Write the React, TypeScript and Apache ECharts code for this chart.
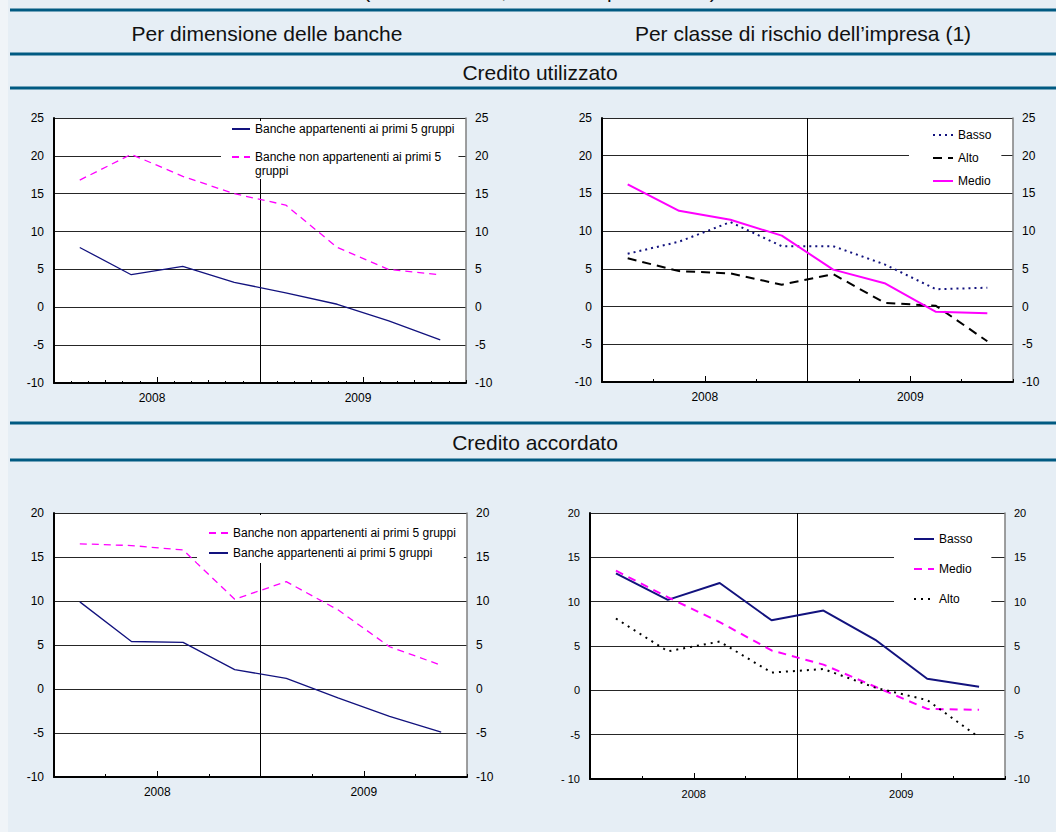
import React, { useEffect, useRef } from 'react';
import * as echarts from 'echarts';

// ---------- data ----------
const quarters = ['2007-Q3', '2007-Q4', '2008-Q1', '2008-Q2', '2008-Q3', '2008-Q4', '2009-Q1', '2009-Q2'];
const boundaries = [...quarters, '2009-Q3'];
const months = quarters.flatMap((q) => [q + '-m1', q + '-m2', q + '-m3']);

// Credito utilizzato - per dimensione delle banche
const big5Util = [7.9, 4.3, 5.4, 3.3, 1.9, 0.4, -1.8, -4.3];
const nonBig5Util = [16.8, 20.2, 17.3, 15.0, 13.5, 7.9, 5.0, 4.3];
// Credito utilizzato - per classe di rischio
const bassoUtil = [7.0, 8.6, 11.2, 8.0, 8.0, 5.6, 2.3, 2.5];
const altoUtil = [6.4, 4.7, 4.4, 2.9, 4.3, 0.5, 0.1, -4.6];
const medioUtil = [16.2, 12.7, 11.5, 9.4, 4.9, 3.1, -0.7, -0.9];
// Credito accordato - per dimensione delle banche
const big5Acc = [9.9, 5.4, 5.3, 2.2, 1.2, -1.0, -3.1, -4.9];
const nonBig5Acc = [16.5, 16.3, 15.8, 10.2, 12.2, 9.0, 4.8, 2.7];
// Credito accordato - per classe di rischio
const bassoAcc = [13.2, 10.2, 12.1, 7.9, 9.0, 5.7, 1.3, 0.4];
const medioAcc = [13.5, 10.5, 7.7, 4.5, 2.9, 0.4, -2.1, -2.2];
const altoAcc = [8.1, 4.4, 5.5, 2.0, 2.4, 0.3, -1.1, -5.3];

const NAME_BIG5 = 'Banche appartenenti ai primi 5 gruppi';
const NAME_NONBIG5 = 'Banche non appartenenti ai primi 5 gruppi';

const TITLE_TOP = '(dati trimestrali; variazioni percentuali)';
const HEAD_LEFT = 'Per dimensione delle banche';
const HEAD_RIGHT = 'Per classe di rischio dell\u2019impresa (1)';
const SECTION_1 = 'Credito utilizzato';
const SECTION_2 = 'Credito accordato';

// ---------- styles ----------
const FONT = "'Liberation Sans', Arial, Helvetica, sans-serif";
const NAVY = '#12127E';
const MAGENTA = '#FF00FF';
const BLACK = '#000000';
const BG = '#E6EEF5';
const RULE = '#005A82';

type SeriesDef = { name: string; data: number[]; color: string; width: number; dash: any };
type PanelDef = {
  rect: { left: number; top: number; width: number; height: number };
  ymax: number;
  series: SeriesDef[];
  legendOrder: string[];
  legend: { left: number; top: number; padding: number[]; itemGap: number; itemWidth: number };
  monthly: boolean;
  labelShift: number;
  yFont: number;
  xFont: number;
  spacedMin: boolean;
  wrapNon: boolean;
};

const panels: PanelDef[] = [
  {
    rect: { left: 54, top: 118, width: 412, height: 265 },
    ymax: 25,
    series: [
      { name: NAME_BIG5, data: big5Util, color: NAVY, width: 1.3, dash: 'solid' },
      { name: NAME_NONBIG5, data: nonBig5Util, color: MAGENTA, width: 1.3, dash: [7, 5] },
    ],
    legendOrder: [NAME_BIG5, NAME_NONBIG5],
    legend: { left: 221, top: 121, padding: [1, 4, 1, 10], itemGap: 0, itemWidth: 18 },
    monthly: true,
    labelShift: 5,
    yFont: 12,
    xFont: 12,
    spacedMin: false,
    wrapNon: true,
  },
  {
    rect: { left: 602, top: 118, width: 411, height: 264 },
    ymax: 25,
    series: [
      { name: 'Basso', data: bassoUtil, color: NAVY, width: 2, dash: [2, 4] },
      { name: 'Alto', data: altoUtil, color: BLACK, width: 2, dash: [9, 6] },
      { name: 'Medio', data: medioUtil, color: MAGENTA, width: 2, dash: 'solid' },
    ],
    legendOrder: ['Basso', 'Alto', 'Medio'],
    legend: { left: 909, top: 120, padding: [8, 10, 4, 23], itemGap: 9, itemWidth: 20 },
    monthly: false,
    labelShift: 0,
    yFont: 12,
    xFont: 12,
    spacedMin: false,
    wrapNon: false,
  },
  {
    rect: { left: 54, top: 513, width: 413, height: 264 },
    ymax: 20,
    series: [
      { name: NAME_NONBIG5, data: nonBig5Acc, color: MAGENTA, width: 1.3, dash: [7, 5] },
      { name: NAME_BIG5, data: big5Acc, color: NAVY, width: 1.3, dash: 'solid' },
    ],
    legendOrder: [NAME_NONBIG5, NAME_BIG5],
    legend: { left: 197, top: 515, padding: [11, 8, 3, 11], itemGap: 6, itemWidth: 19 },
    monthly: false,
    labelShift: 0,
    yFont: 12,
    xFont: 12,
    spacedMin: false,
    wrapNon: false,
  },
  {
    rect: { left: 590, top: 513, width: 415, height: 266 },
    ymax: 20,
    series: [
      { name: 'Basso', data: bassoAcc, color: NAVY, width: 2, dash: 'solid' },
      { name: 'Medio', data: medioAcc, color: MAGENTA, width: 2, dash: [8, 6] },
      { name: 'Alto', data: altoAcc, color: BLACK, width: 2, dash: [2, 5] },
    ],
    legendOrder: ['Basso', 'Medio', 'Alto'],
    legend: { left: 894, top: 517, padding: [15, 19, 6, 19], itemGap: 16, itemWidth: 20 },
    monthly: false,
    labelShift: 0,
    yFont: 11,
    xFont: 11,
    spacedMin: true,
    wrapNon: false,
  },
];

function buildOption() {
  const grid: any[] = [];
  const xAxis: any[] = [];
  const yAxis: any[] = [];
  const series: any[] = [];
  const legend: any[] = [];

  panels.forEach((p, i) => {
    grid.push({
      left: p.rect.left,
      top: p.rect.top,
      width: p.rect.width,
      height: p.rect.height,
      show: true,
      backgroundColor: '#ffffff',
      borderWidth: 0,
      containLabel: false,
    });

    const xa = xAxis.length;
    xAxis.push({
      type: 'category',
      gridIndex: i,
      data: quarters,
      boundaryGap: true,
      position: 'bottom',
      axisLine: { show: true, onZero: false, lineStyle: { color: '#000', width: 2 } },
      axisTick: { show: true, inside: true, length: 3, interval: 0, lineStyle: { color: '#000', width: 1 } },
      axisLabel: { show: false },
      splitLine: { show: false },
    });
    xAxis.push({
      type: 'category',
      gridIndex: i,
      data: boundaries,
      boundaryGap: false,
      position: 'bottom',
      axisLine: { show: true, onZero: false, lineStyle: { color: 'rgba(0,0,0,0)' } },
      axisTick: {
        show: true,
        inside: true,
        length: 6,
        interval: (_idx: number, v: string) => v.endsWith('Q1'),
        lineStyle: { color: '#000', width: 1 },
      },
      axisLabel: {
        show: true,
        interval: 0,
        formatter: (v: string) => (v.endsWith('Q1') ? v.slice(0, 4) : ''),
        fontSize: p.xFont,
        color: '#000',
        fontFamily: FONT,
        margin: 9,
        padding: [0, p.labelShift * 2, 0, 0],
      },
      splitLine: {
        show: true,
        interval: (idx: number) => idx === 4,
        lineStyle: { color: '#000', width: 1 },
      },
    });
    if (p.monthly) {
      xAxis.push({
        type: 'category',
        gridIndex: i,
        data: months,
        boundaryGap: true,
        position: 'bottom',
        axisLine: { show: true, onZero: false, lineStyle: { color: 'rgba(0,0,0,0)' } },
        axisTick: { show: true, inside: true, length: 2, interval: 0, lineStyle: { color: '#000', width: 1 } },
        axisLabel: { show: false },
        splitLine: { show: false },
      });
    }

    const ya = yAxis.length;
    yAxis.push({
      type: 'value',
      gridIndex: i,
      position: 'left',
      min: -10,
      max: p.ymax,
      interval: 5,
      axisLine: { show: true, onZero: false, lineStyle: { color: '#000', width: 2 } },
      axisTick: { show: false },
      axisLabel: {
        fontSize: p.yFont,
        color: '#000',
        fontFamily: FONT,
        margin: 10,
        formatter: (v: number) => (p.spacedMin && v === -10 ? '- 10' : String(v)),
      },
      splitLine: { show: true, lineStyle: { color: '#262626', width: 1 } },
    });
    yAxis.push({
      type: 'value',
      gridIndex: i,
      position: 'right',
      min: -10,
      max: p.ymax,
      interval: 5,
      axisLine: { show: true, onZero: false, lineStyle: { color: '#7f7f7f', width: 1.5 } },
      axisTick: { show: false },
      axisLabel: { fontSize: p.yFont, color: '#000', fontFamily: FONT, margin: 9 },
      splitLine: { show: false },
    });

    p.series.forEach((s) => {
      series.push({
        type: 'line',
        name: s.name + '|' + i,
        xAxisIndex: xa,
        yAxisIndex: ya,
        data: s.data,
        symbol: 'none',
        showSymbol: false,
        lineStyle: { color: s.color, width: s.width, type: s.dash },
        itemStyle: { color: s.color },
        z: 3,
        silent: true,
      });
    });

    legend.push({
      orient: 'vertical',
      left: p.legend.left,
      top: p.legend.top,
      padding: p.legend.padding,
      itemGap: p.legend.itemGap,
      itemWidth: p.legend.itemWidth,
      itemHeight: 14,
      backgroundColor: '#ffffff',
      selectedMode: false,
      itemStyle: { opacity: 0, borderWidth: 0 },
      data: p.legendOrder.map((n) => n + '|' + i),
      formatter: (name: string) => {
        const base = name.split('|')[0];
        if (p.wrapNon && base === NAME_NONBIG5) return ' \nBanche non appartenenti ai primi 5\ngruppi';
        return base;
      },
      textStyle: { fontSize: 12, color: '#000', fontFamily: FONT, lineHeight: 14 },
    });
  });

  const rules = [10, 54, 88, 423, 460].map((y) => ({
    type: 'line',
    silent: true,
    shape: { x1: 10, y1: y, x2: 1056, y2: y },
    style: { stroke: RULE, lineWidth: 3 },
  }));

  const txt = (text: string, x: number, y: number) => ({
    type: 'text',
    silent: true,
    x,
    y,
    style: {
      text,
      fill: '#111',
      fontSize: 21,
      fontFamily: FONT,
      align: 'center',
      verticalAlign: 'middle',
      textAlign: 'center',
      textVerticalAlign: 'middle',
    },
  });

  const graphic = [
    { type: 'rect', silent: true, z: -10, shape: { x: 0, y: 0, width: 1056, height: 832 }, style: { fill: BG } },
    { type: 'rect', silent: true, z: -9, shape: { x: 0, y: 0, width: 8, height: 832 }, style: { fill: '#F0F4F8' } },
    ...rules,
    txt(TITLE_TOP, 540, -10),
    txt(HEAD_LEFT, 267, 33),
    txt(HEAD_RIGHT, 803, 33),
    txt(SECTION_1, 540, 72),
    txt(SECTION_2, 535, 442),
  ];

  return {
    animation: false,
    backgroundColor: BG,
    textStyle: { fontFamily: FONT },
    grid,
    xAxis,
    yAxis,
    series,
    legend,
    graphic,
  };
}

export default function App() {
  const ref = useRef<HTMLDivElement>(null);
  useEffect(() => {
    if (!ref.current) return;
    const chart = echarts.init(ref.current, undefined, { renderer: 'svg' });
    chart.setOption(buildOption() as any);
    return () => chart.dispose();
  }, []);
  return (
    <div
      ref={ref}
      style={{ position: 'absolute', left: 0, top: 0, width: 1056, height: 832 }}
    />
  );
}
